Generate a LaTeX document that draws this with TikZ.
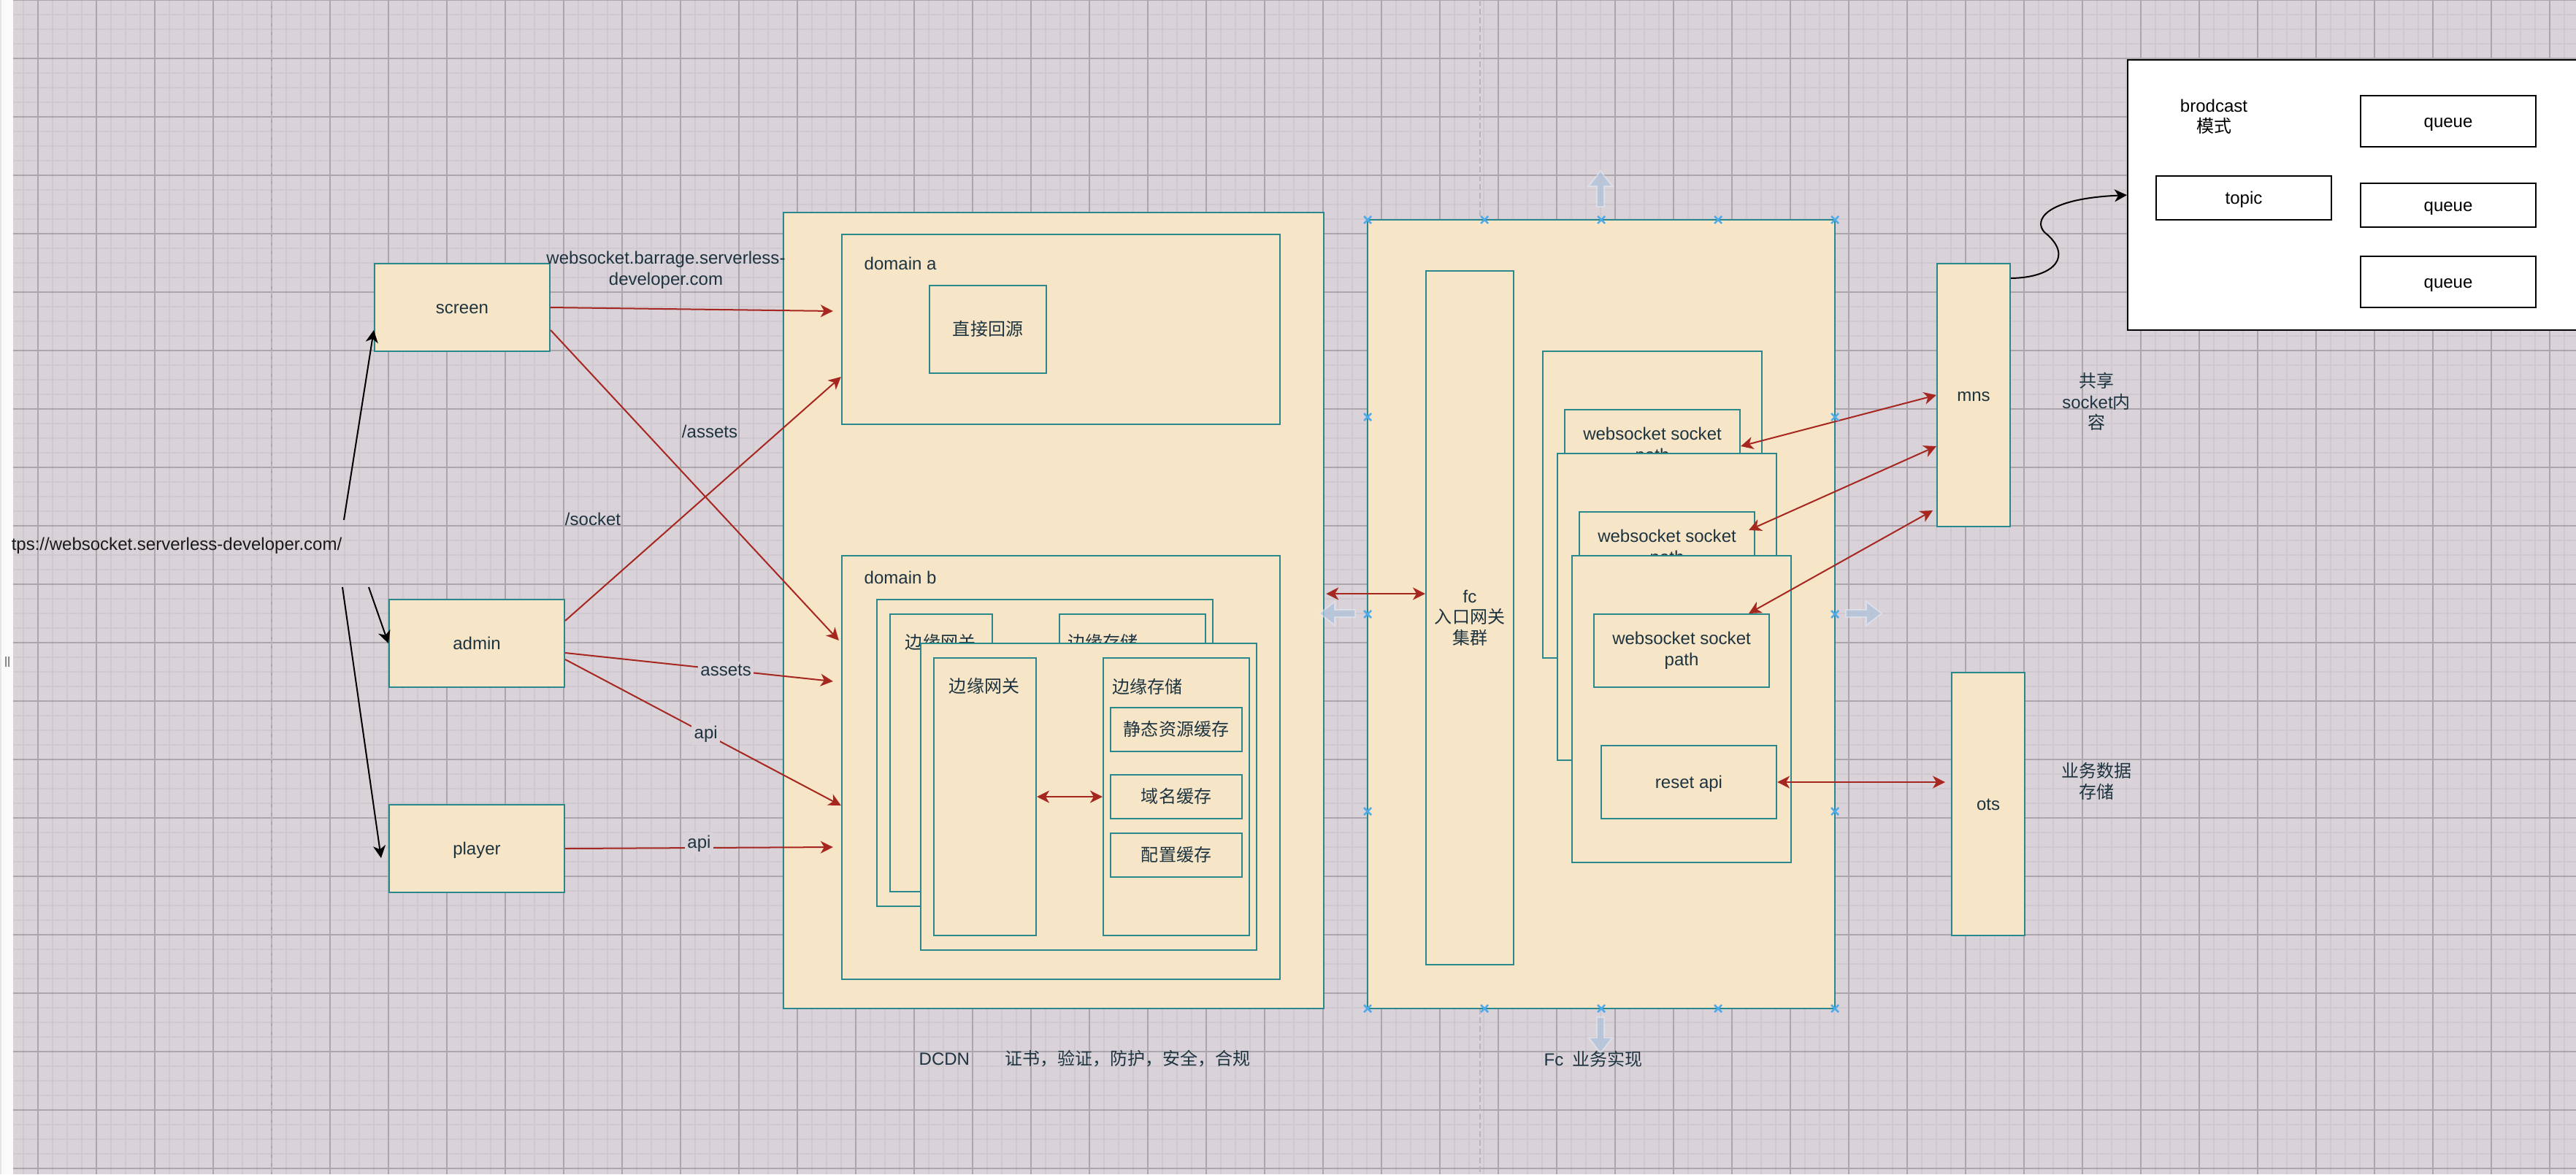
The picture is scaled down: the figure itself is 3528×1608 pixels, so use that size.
\documentclass[tikz,border=0pt]{standalone}
\usepackage{fontspec}
\setmainfont{Liberation Sans}
\newfontfamily\cjk{Noto Sans CJK SC}
\usetikzlibrary{arrows.meta,positioning,calc}

\definecolor{bgc}{HTML}{D9D2D9}
\definecolor{minorc}{HTML}{CFC8CF}
\definecolor{majorc}{HTML}{ABA6AC}
\definecolor{pagec}{HTML}{B9B6BA}
\definecolor{fillc}{HTML}{F7E5C7}
\definecolor{tealc}{HTML}{2A888C}
\definecolor{redc}{HTML}{A6271F}
\definecolor{fontc}{HTML}{1D3440}
\definecolor{hoverc}{HTML}{4DAAEB}
\definecolor{ghostc}{HTML}{AFC3DA}

\newcommand{\fs}{\fontsize{6.83pt}{8.1pt}\selectfont}
\newcommand{\hovx}[2]{\draw[hoverc,line width=0.025cm] (#1-5,#2-5) -- (#1+5,#2+5) (#1-5,#2+5) -- (#1+5,#2-5);}

\begin{document}
\begin{tikzpicture}[x=0.01cm,y=-0.01cm,>={Stealth[length=0.17cm,width=0.17cm,inset=0.05cm]},
  every node/.style={font=\fs,text=fontc},
  sz/.style 2 args={minimum width=#1cm,minimum height=#2cm},
  ln/.style={text height=0.7em,text depth=0.2em},
  tbox/.style={draw=tealc,fill=fillc,line width=0.02cm,inner sep=0pt,align=center},
  wbox/.style={draw=black,fill=white,line width=0.02cm,inner sep=0pt,text=black},
  txt/.style={inner sep=0pt,align=center},
  redarr/.style={draw=redc,line width=0.02cm},
  blkarr/.style={draw=black,line width=0.02cm},
  elbl/.style={fill=bgc,inner sep=1pt},
  ghost/.style={fill=ghostc,fill opacity=0.75,draw=white,draw opacity=0.35,line width=0.02cm}]
\useasboundingbox (0,0) rectangle (3528,1608);
\clip (0,0) rectangle (3528,1608);
\fill[bgc] (0,0) rectangle (3528,1608);
\foreach \i in {0,...,176} \draw[minorc,line width=0.02cm] (12+20*\i,0) -- (12+20*\i,1608);
\foreach \j in {1,...,80} \draw[minorc,line width=0.02cm] (0,20*\j) -- (3528,20*\j);
\foreach \i in {0,...,43} \draw[majorc,line width=0.012cm] (52+80*\i,0) -- (52+80*\i,1608);
\foreach \j in {0,...,20} \draw[majorc,line width=0.012cm] (0,80*\j) -- (3528,80*\j);
\foreach \px in {372,2027} \draw[pagec,line width=0.02cm,dash pattern=on 0.08cm off 0.04cm] (\px,0) -- (\px,1608);
\fill[white!98!black] (0,0) rectangle (18,1608);
\fill[black!10] (0,0) rectangle (2,1608);
\fill[black!45] (7,899) rectangle (9,913) (11,899) rectangle (13,913);

\node[tbox,ln,sz={2.4}{1.2}] (screen) at (633,421) {screen};
\node[tbox,ln,sz={2.4}{1.2}] (admin) at (653,881) {admin};
\node[tbox,ln,sz={2.4}{1.2}] (player) at (653,1162) {player};
\node[txt,anchor=east,text=black!90] (url) at (469,747) {tps://websocket.serverless-developer.com/};

\node[tbox,sz={7.4}{10.9}] (dcdn) at (1443,836) {};
\node[tbox,sz={6.0}{2.6}] (doma) at (1453,451) {};
\node[txt,anchor=west] (domalbl) at (1183,361) {domain a};
\node[tbox,ln,sz={1.6}{1.2}] (huiyuan) at (1353,451) {\cjk 直接回源};
\node[tbox,sz={6.0}{5.8}] (domb) at (1453,1051) {};
\node[txt,anchor=west] (domblbl) at (1183,791) {domain b};
\node[tbox,sz={4.6}{4.2}] (card0) at (1431,1031) {};
\node[tbox,sz={1.4}{3.8}] (gw0) at (1289,1031) {};
\node[txt] (gw0lbl) at (1288,879) {\cjk 边缘网关};
\node[tbox,sz={2.0}{3.8}] (st0) at (1551,1031) {};
\node[txt,anchor=west] (st0lbl) at (1462,879) {\cjk 边缘存储};
\node[tbox,sz={4.6}{4.2}] (card1) at (1491,1091) {};
\node[tbox,sz={1.4}{3.8}] (gw1) at (1349,1091) {};
\node[txt] (gw1lbl) at (1348,939) {\cjk 边缘网关};
\node[tbox,sz={2.0}{3.8}] (st1) at (1611,1091) {};
\node[txt,anchor=west] (st1lbl) at (1523,940) {\cjk 边缘存储};
\node[tbox,ln,sz={1.8}{0.6}] (static) at (1611,999) {\cjk 静态资源缓存};
\node[tbox,ln,sz={1.8}{0.6}] (dns) at (1611,1091) {\cjk 域名缓存};
\node[tbox,ln,sz={1.8}{0.6}] (conf) at (1611,1171) {\cjk 配置缓存};

\node[tbox,sz={6.4}{10.8}] (fc) at (2193,841) {};
\node[tbox,sz={1.2}{9.5}] (fcgw) at (2013,846) {fc\\{\cjk 入口网关}\\{\cjk 集群}};
\node[tbox,sz={3.0}{4.2}] (wcard1) at (2263,691) {};
\node[tbox,sz={2.4}{1.0}] (ws1) at (2263,611) {websocket socket\\path};
\node[tbox,sz={3.0}{4.2}] (wcard2) at (2283,831) {};
\node[tbox,sz={2.4}{1.0}] (ws2) at (2283,751) {websocket socket\\path};
\node[tbox,sz={3.0}{4.2}] (wcard3) at (2303,971) {};
\node[tbox,sz={2.4}{1.0}] (ws3) at (2303,891) {websocket socket\\path};
\node[tbox,ln,sz={2.4}{1.0}] (reset) at (2313,1071) {reset api};

\node[tbox,ln,sz={1.0}{3.6}] (mns) at (2703,541) {mns};
\node[tbox,ln,sz={1.0}{3.6}] (ots) at (2723,1101) {ots};
\node[txt] (sharelbl) at (2871,550) {{\cjk 共享}\\socket{\cjk 内}\\{\cjk 容}};
\node[txt] (datalbl) at (2871,1070) {{\cjk 业务数据}\\{\cjk 存储}};

\node[wbox,minimum width=7cm,minimum height=3.7cm,anchor=north west] (bcast) at (2913,81) {};
\node[txt,text=black] (bcastlbl) at (3032,160) {brodcast\\{\cjk 模式}};
\node[wbox,ln,sz={2.4}{0.6}] (topic) at (3073,271) {topic};
\node[wbox,ln,sz={2.4}{0.7}] (q1) at (3353,166) {queue};
\node[wbox,ln,sz={2.4}{0.6}] (q2) at (3353,281) {queue};
\node[wbox,ln,sz={2.4}{0.7}] (q3) at (3353,386) {queue};

\node[txt,anchor=west] (dcdnlbl) at (1258,1450) {DCDN\hspace{0.48cm}{\cjk 证书，验证，防护，安全，合规}};
\node[txt,anchor=west] (fclbl) at (2114,1450) {Fc\hspace{0.12cm}{\cjk 业务实现}};
\node[txt] (wslbl) at (912,370) {websocket.barrage.serverless-\\developer.com};
\node[txt] (assetslbl) at (972,591) {/assets};
\node[txt] (socketlbl) at (812,711) {/socket};

\draw[blkarr,->] ($(url.east)+(2,-35)$) -- ($(screen.west)+(0,31)$);
\draw[blkarr,->] ($(url.east)+(36,57)$) -- (admin.west);
\draw[blkarr,->] ($(url.east)+(0,57)$) -- ($(player.west)+(-10,13)$);

\draw[redarr,->] (screen.east) -- ($(doma.west)+(-11,-25)$);
\draw[redarr,->] ($(screen.east)+(0,31)$) -- ($(domb.west)+(-3,-174)$);
\draw[redarr,->] ($(admin.east)+(0,-31)$) -- ($(doma.west)+(0,65)$);
\draw[redarr,->] ($(admin.east)+(0,13)$) -- node[elbl,pos=0.6] (assetsedge) {assets} ($(domb.west)+(-11,-118)$);
\draw[redarr,->] ($(admin.east)+(0,22)$) -- node[elbl,pos=0.51] (apiedge1) {api} ($(domb.west)+(0,52)$);
\draw[redarr,->] (player.east) -- node[elbl,pos=0.5,yshift=0.06cm] (apiedge2) {api} ($(domb.west)+(-11,109)$);
\draw[redarr,<->] ($(dcdn.east)+(2,-23)$) -- ($(fcgw.west)+(0,-33)$);
\draw[redarr,<->] (gw1.east) -- (st1.west);
\draw[redarr,<->] (ws1.east) -- (mns.west);
\draw[redarr,<->] ($(ws2.north east)+(-9,26)$) -- ($(mns.west)+(0,70)$);
\draw[redarr,<->] ($(ws3.north east)+(-29,0)$) -- ($(mns.west)+(-5,158)$);
\draw[redarr,<->] (reset.east) -- ($(ots.west)+(-8,-30)$);

\coordinate (bend) at (2800,318);
\draw[blkarr,->] ($(mns.east)+(0,-160)$) .. controls (2815,380) and (2840,350) .. (bend) .. controls (2785,302) and (2800,272) .. (bcast.west);

\foreach \hx in {1873,2033,2193,2353,2513} {\hovx{\hx}{301} \hovx{\hx}{1381}}
\foreach \hy in {571,841,1111} {\hovx{1873}{\hy} \hovx{2513}{\hy}}
\foreach \px/\py/\ang in {2192/234/0,2192/1442/180,1807/840/90,2577/840/-90}
  \fill[ghost,shift={(\px,\py)},rotate=\ang] (0,0) -- (16,21) -- (5,21) -- (5,49) -- (-5,49) -- (-5,21) -- (-16,21) -- cycle;
\end{tikzpicture}
\end{document}
